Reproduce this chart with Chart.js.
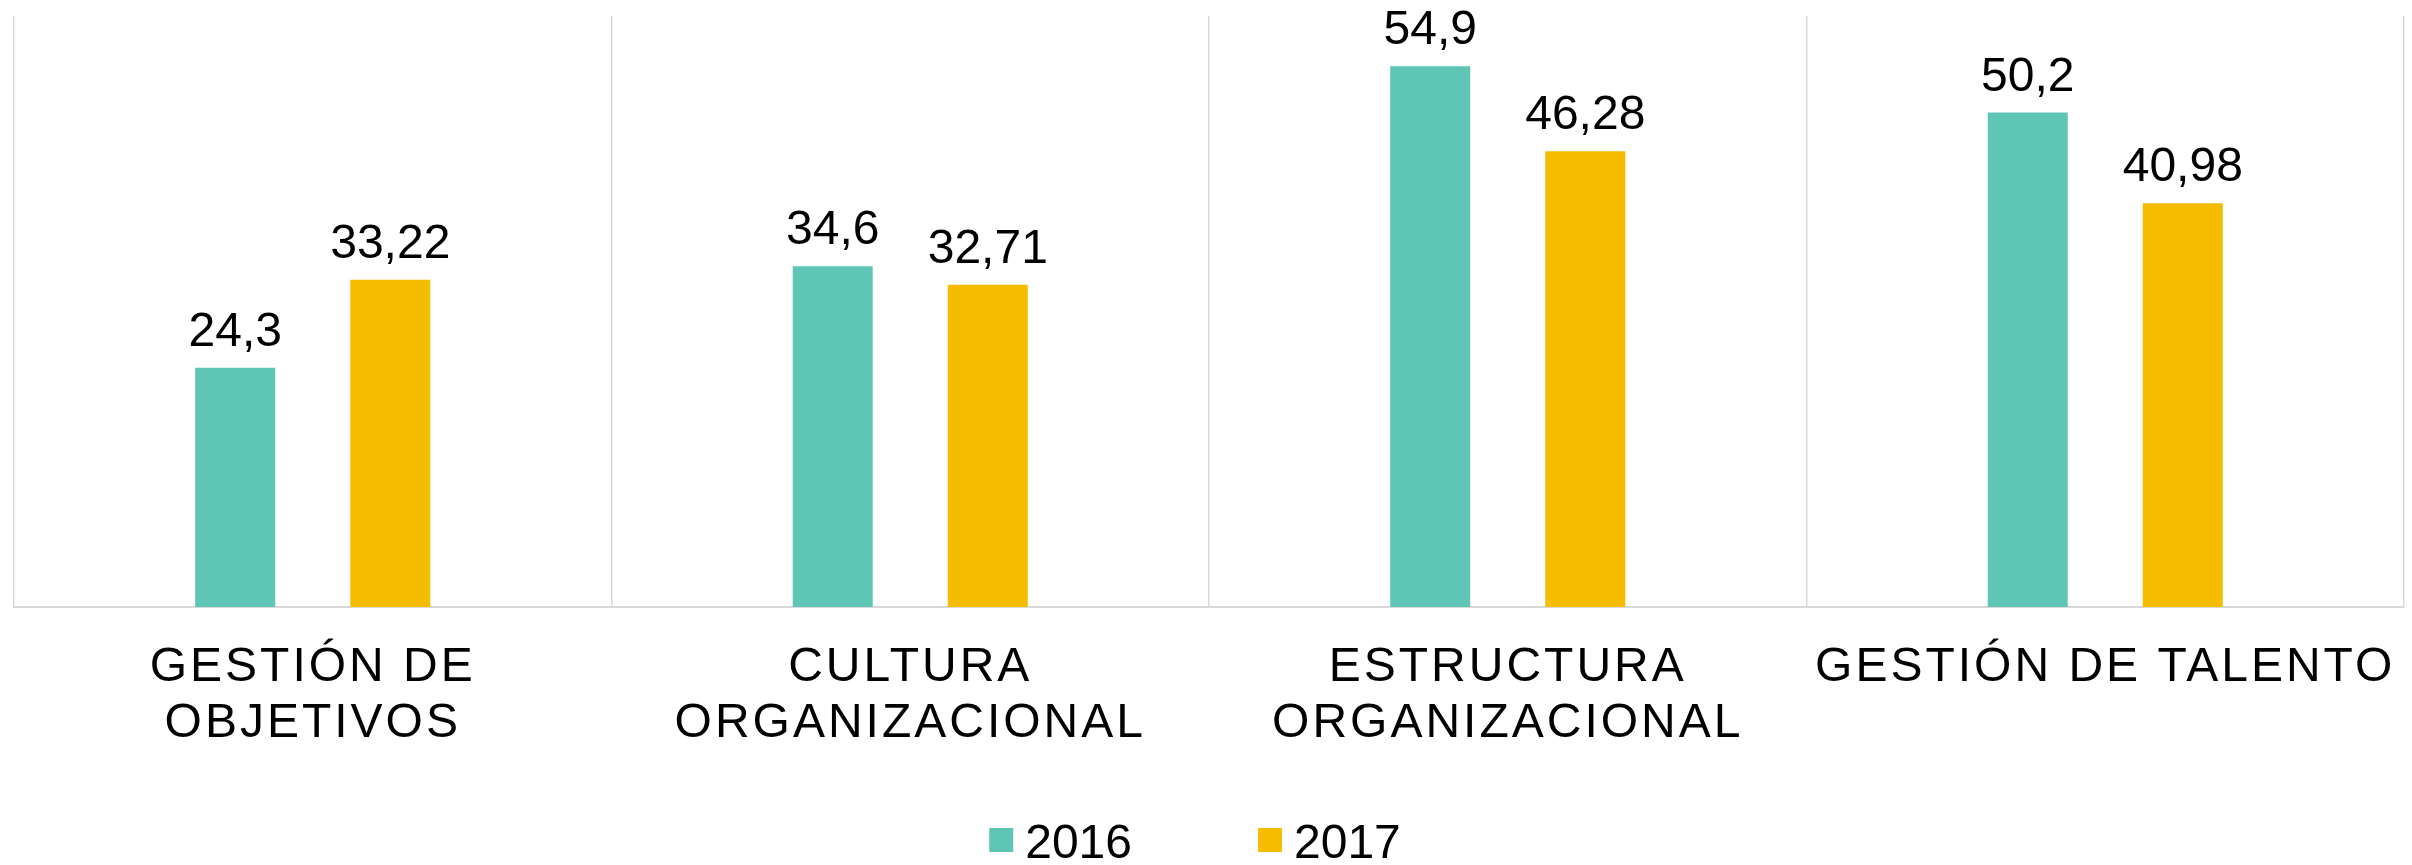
<!DOCTYPE html>
<html>
<head>
<meta charset="utf-8">
<script src="https://cdn.jsdelivr.net/npm/chart.js@4.4.1/dist/chart.umd.min.js"></script>
<style>
  html, body { margin: 0; padding: 0; background: #fff; }
  #wrap { width: 2412px; height: 865px; }
</style>
</head>
<body>
<div id="wrap"><canvas id="chart"></canvas></div>
<script>
// categories and series
const categories = [
  ["GESTIÓN DE", "OBJETIVOS"],
  ["CULTURA", "ORGANIZACIONAL"],
  ["ESTRUCTURA", "ORGANIZACIONAL"],
  "GESTIÓN DE TALENTO"
];
const seriesNames = ["2016", "2017"];
const values2016 = [24.3, 34.6, 54.9, 50.2];
const values2017 = [33.22, 32.71, 46.28, 40.98];

const colors = {
  teal: "#5fc5b5",
  gold: "#f5bc00",
  grid: "#d9d9d9",
  text: "#000000",
};

const fontFamily = "'Liberation Sans', Arial, sans-serif";

// value labels above the bars (decimal comma) and the legend row under the axis
const annotate = {
  id: "annotate",
  beforeDraw(chart) {
    chart.ctx.letterSpacing = "0px";
  },
  afterDatasetsDraw(chart) {
    const ctx = chart.ctx;
    ctx.save();
    ctx.letterSpacing = "0px";
    ctx.font = "48px " + fontFamily;
    ctx.fillStyle = colors.text;
    ctx.textAlign = "center";
    ctx.textBaseline = "alphabetic";
    chart.data.datasets.forEach((ds, di) => {
      chart.getDatasetMeta(di).data.forEach((bar, i) => {
        ctx.fillText(String(ds.data[i]).replace(".", ","), bar.x, bar.y - 22);
      });
    });
    ctx.restore();
    // the category labels drawn next are spaced out a little
    ctx.letterSpacing = "3px";
  },
  afterDraw(chart) {
    const ctx = chart.ctx;
    ctx.letterSpacing = "0px";
    ctx.save();
    ctx.font = "48px " + fontFamily;
    ctx.textAlign = "left";
    ctx.textBaseline = "middle";
    const box = 24, gap = 12, between = 126;
    const items = chart.data.datasets.map(ds => ({
      text: ds.label, color: ds.backgroundColor, w: box + gap + ctx.measureText(ds.label).width
    }));
    const rowW = items.reduce((s, it) => s + it.w, 0) + between * (items.length - 1);
    const area = chart.chartArea;
    let x = (area.left + area.right) / 2 - rowW / 2 - 14;
    const y = 845;
    items.forEach(it => {
      ctx.fillStyle = it.color;
      ctx.fillRect(x, y - 17, box, box);
      ctx.fillStyle = colors.text;
      ctx.fillText(it.text, x + box + gap, y);
      x += it.w + between;
    });
    ctx.restore();
  }
};

new Chart(document.getElementById("chart"), {
  type: "bar",
  data: {
    labels: categories,
    datasets: [
      { label: seriesNames[0], data: values2016, backgroundColor: colors.teal },
      { label: seriesNames[1], data: values2017, backgroundColor: colors.gold }
    ]
  },
  options: {
    responsive: true,
    maintainAspectRatio: false,
    animation: false,
    layout: { padding: { top: 16, left: 14, right: 8, bottom: 113 } },
    datasets: { bar: { categoryPercentage: 0.519, barPercentage: 0.516 } },
    scales: {
      x: {
        grid: { color: colors.grid, lineWidth: 1.5, drawTicks: false, offset: true },
        border: { color: colors.grid, width: 2 },
        ticks: {
          z: 1,
          color: colors.text,
          padding: 32,
          maxRotation: 0,
          autoSkip: false,
          font: { family: fontFamily, size: 48, lineHeight: 1.18 }
        },
        afterFit(scale) { scale.height = 145; }
      },
      y: {
        display: false,
        min: 0,
        max: 60
      }
    },
    plugins: {
      legend: { display: false },
      tooltip: { enabled: false }
    }
  },
  plugins: [annotate]
});
</script>
</body>
</html>
